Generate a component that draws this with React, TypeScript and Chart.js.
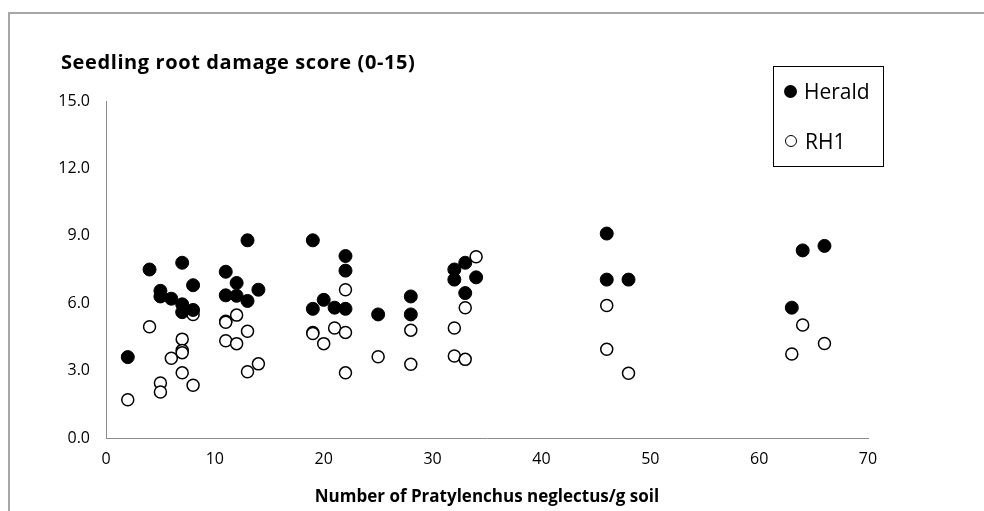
import React, { useEffect, useRef } from "react";
import { Chart, registerables } from "chart.js";

Chart.register(...registerables);

const heraldX = [2, 4, 5, 5, 6, 7, 7, 7, 8, 8, 11, 11, 12, 12, 13, 13, 14, 19, 19, 20, 21, 22, 22, 22, 25, 28, 28, 32, 32, 33, 33, 34, 46, 46, 48, 63, 64, 66];
const heraldY = [3.6, 7.5, 6.55, 6.3, 6.2, 7.8, 5.95, 5.6, 6.8, 5.7, 7.4, 6.35, 6.9, 6.33, 8.8, 6.1, 6.6, 8.8, 5.75, 6.15, 5.8, 8.1, 7.45, 5.75, 5.5, 6.3, 5.5, 7.5, 7.05, 7.8, 6.45, 7.15, 9.1, 7.05, 7.05, 5.8, 8.35, 8.55];

const rh1X = [2, 4, 5, 5, 6, 7, 7, 7, 7, 8, 8, 11, 11, 11, 12, 12, 13, 13, 14, 19, 19, 20, 21, 22, 22, 22, 25, 28, 28, 32, 32, 33, 33, 34, 46, 46, 48, 63, 64, 66];
const rh1Y = [1.7, 4.95, 2.45, 2.05, 3.55, 4.4, 3.9, 3.8, 2.9, 5.5, 2.35, 5.2, 5.15, 4.33, 5.47, 4.2, 4.75, 2.95, 3.3, 4.7, 4.65, 4.2, 4.9, 6.6, 4.7, 2.9, 3.62, 4.8, 3.28, 4.9, 3.65, 5.8, 3.5, 8.07, 5.9, 3.95, 2.88, 3.74, 5.03, 4.21];

const seriesNames = ["Herald", "RH1"];
const yTitle = "Seedling root damage score (0-15)";
const xTitle = "Number of Pratylenchus neglectus/g soil";
const xMin = 0, xMax = 70, xStep = 10;
const yMin = 0, yMax = 15, yStep = 3;

const FONT = "'Open Sans', Lato, sans-serif";

export default function App() {
  const ref = useRef<HTMLCanvasElement>(null);
  useEffect(() => {
    if (!ref.current) return;
    const chart = new Chart(ref.current, {
      type: "scatter",
      data: {
        datasets: [
          {
            label: seriesNames[0],
            data: heraldX.map((x, i) => ({ x, y: heraldY[i] })),
            backgroundColor: "#000",
            borderColor: "#000",
            borderWidth: 1,
            pointRadius: 6.5,
          },
          {
            label: seriesNames[1],
            data: rh1X.map((x, i) => ({ x, y: rh1Y[i] })),
            backgroundColor: "#fff",
            borderColor: "#000",
            borderWidth: 1.5,
            pointRadius: 6,
          },
        ],
      },
      options: {
        responsive: false,
        animation: false,
        layout: { padding: { left: 0, right: 116, top: 101, bottom: 0 } },
        plugins: { legend: { display: false }, tooltip: { enabled: false } },
        scales: {
          x: {
            type: "linear",
            min: xMin,
            max: xMax,
            afterFit: (s: any) => { s.height = 73; },
            grid: { display: false, drawTicks: false },
            border: { display: true, color: "#8c8c8c", width: 1 },
            ticks: { stepSize: xStep, padding: 12, color: "#000", font: { family: FONT, size: 16 } },
            title: { display: true, text: xTitle, color: "#000", font: { family: FONT, size: 17, weight: "bold" }, padding: { top: 0, bottom: 4 } },
          },
          y: {
            type: "linear",
            min: yMin,
            max: yMax,
            afterFit: (s: any) => { s.width = 106; },
            grid: { display: false, drawTicks: false },
            border: { display: true, color: "#8c8c8c", width: 1 },
            ticks: { stepSize: yStep, padding: 16, color: "#000", font: { family: FONT, size: 16 }, callback: (v: any) => Number(v).toFixed(1) },
          },
        },
      },
    });
    return () => chart.destroy();
  }, []);

  return (
    <div style={{ position: "fixed", left: 0, top: 0, width: 984, height: 511, background: "#fff", overflow: "hidden" }}>
      <div style={{ position: "absolute", left: 8, top: 12, width: 1000, height: 600, borderTop: "2px solid #a6a6a6", borderLeft: "2px solid #a6a6a6" }} />
      <canvas ref={ref} width={984} height={511} style={{ position: "absolute", left: 0, top: 0 }} />
      <div style={{ position: "absolute", left: 61, top: 48, fontFamily: FONT, fontWeight: "bold", fontSize: 20, letterSpacing: 0.6, color: "#000", whiteSpace: "nowrap" }}>{yTitle}</div>
      <div style={{ position: "absolute", left: 773, top: 66, width: 109, height: 99, border: "1px solid #000", fontFamily: FONT, fontSize: 21, color: "#000" }}>
        <div style={{ position: "absolute", left: 10, top: 10, display: "flex", alignItems: "center" }}>
          <span style={{ display: "inline-block", width: 13, height: 13, borderRadius: "50%", background: "#000", marginRight: 7 }} />
          <span>{seriesNames[0]}</span>
        </div>
        <div style={{ position: "absolute", left: 11, top: 60, display: "flex", alignItems: "center" }}>
          <span style={{ display: "inline-block", width: 10, height: 10, borderRadius: "50%", border: "1px solid #000", background: "#fff", marginRight: 8 }} />
          <span>{seriesNames[1]}</span>
        </div>
      </div>
    </div>
  );
}
